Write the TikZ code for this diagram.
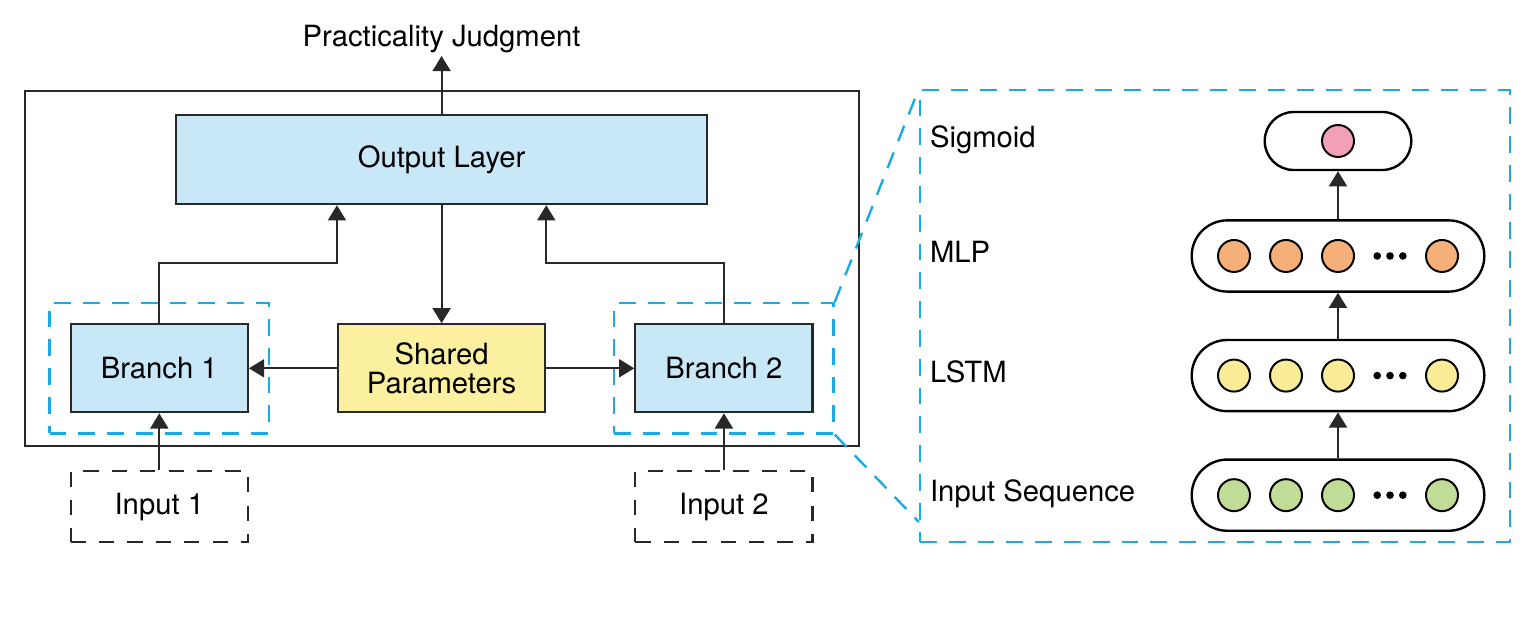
\documentclass[tikz,border=0pt]{standalone}
\usepackage{fontspec}
\setmainfont{TeX Gyre Heros}
\usetikzlibrary{positioning, shapes.misc, arrows.meta, fit, calc}

\definecolor{boxblue}{RGB}{200,232,248}
\definecolor{boxyellow}{RGB}{250,240,160}
\definecolor{zoomblue}{RGB}{28,170,226}
\definecolor{sigpink}{RGB}{242,160,182}
\definecolor{mlporange}{RGB}{245,176,122}
\definecolor{lstmyellow}{RGB}{250,236,150}
\definecolor{seqgreen}{RGB}{192,220,150}
\definecolor{edge}{RGB}{40,40,40}

\begin{document}
\begin{tikzpicture}[
            font=\fontsize{20.8}{20}\selectfont,
            block/.style={draw=edge, line width=1.5pt, fill=boxblue, minimum width=4.43cm, minimum height=2.2cm, align=center},
            inbox/.style={draw=edge, line width=1.5pt, dash pattern=on 0.38cm off 0.33cm, minimum width=4.43cm, minimum height=1.78cm},
            group/.style={draw=zoomblue, line width=1.7pt, dash pattern=on 0.42cm off 0.3cm, inner sep=0.5cm},
            zoomline/.style={draw=zoomblue, line width=1.7pt, dash pattern=on 0.42cm off 0.3cm},
            outerbox/.style={draw=edge, line width=1.6pt, inner sep=0pt},
            pill/.style={rounded rectangle, draw=black, line width=1.7pt, minimum width=7.55cm, minimum height=1.78cm},
            neuron/.style={circle, draw=black, line width=1.4pt, minimum size=0.8cm, inner sep=0pt},
            lbl/.style={anchor=west, inner sep=0pt, text height=0.72em, text depth=0pt, yshift=-0.04cm},
            arrow/.style={-{Triangle[length=0.38cm, width=0.45cm]}, line width=1.5pt, draw=edge}
        ]
        \useasboundingbox (0,0) rectangle (38.3,-15.6);
        
        % Siamese model
        \node[block, minimum width=13.28cm, minimum height=2.23cm] (output) at (11.04,-3.99) {Output Layer};
        \node[block, fill=boxyellow, minimum width=5.18cm, below=2.95cm of output] (shared) {Shared\\Parameters};
        \node[block, left=2.2cm of shared] (branch1) {Branch 1};
        \node[block, right=2.2cm of shared] (branch2) {Branch 2};
        
        \node[group, fit=(branch1)] (grp1) {};
        \node[group, fit=(branch2)] (grp2) {};
        \node[outerbox, fit={(0.625,-2.275) (21.475,-11.15)}] (model) {};
        
        % Inputs
        \node[inbox, below=1.42cm of branch1] (input1) {Input 1};
        \node[inbox, below=1.42cm of branch2] (input2) {Input 2};
        
        % Output label
        \node[above=1.45cm of output, inner sep=2pt] (judge) {Practicality Judgment};
        
        % Arrows
        \draw[arrow] (output) -- (judge);
        \draw[arrow] (output) -- (shared);
        \draw[arrow] (shared) -- (branch1);
        \draw[arrow] (shared) -- (branch2);
        \draw[arrow] (input1) -- (branch1);
        \draw[arrow] (input2) -- (branch2);
        
        \coordinate (join1) at ($(output.south -| shared.west)+(0,-1.45)$);
        \coordinate (join2) at ($(output.south -| shared.east)+(0,-1.45)$);
        \draw[arrow] (branch1.north) |- (join1) -- (join1 |- output.south);
        \draw[arrow] (branch2.north) |- (join2) -- (join2 |- output.south);
        
        % Branch detail
        \node[group, inner sep=0pt, fit={(23,-2.25) (37.75,-13.55)}] (zoom) {};
        \draw[zoomline] (grp2.north east) -- (zoom.north west);
        \draw[zoomline] (grp2.south east) -- ($(zoom.south west)+(0,0.53)$);
        
        \node[pill, minimum width=3.9cm, minimum height=1.45cm] (sigpill) at (33.45,-3.525) {};
        \node[pill, below=1.2cm of sigpill] (mlp) {};
        \node[pill, below=1.15cm of mlp] (lstm) {};
        \node[pill, below=1.15cm of lstm] (inseq) {};
        
        \node[neuron, fill=sigpink] (sig) at (sigpill) {};
        \foreach \lay/\col in {mlp/mlporange, lstm/lstmyellow, inseq/seqgreen} {
            \foreach \i/\dx in {1/-2.6, 2/-1.3, 3/0, 4/2.6}
                \node[neuron, fill=\col] (\lay-\i) at ($(\lay)+(\dx,0)$) {};
            \foreach \dx in {0.98, 1.3, 1.62}
                \fill ($(\lay)+(\dx,0)$) circle (0.095);
        }
        
        \draw[arrow] (mlp) -- (sigpill);
        \draw[arrow] (lstm) -- (mlp);
        \draw[arrow] (inseq) -- (lstm);
        
        % Layer names
        \node[lbl] (tsig) at ($(zoom.west |- sigpill)+(0.275,0)$) {Sigmoid};
        \node[lbl] (tmlp) at ($(zoom.west |- mlp)+(0.275,0)$) {MLP};
        \node[lbl] (tlstm) at ($(zoom.west |- lstm)+(0.275,0)$) {LSTM};
        \node[lbl] (tseq) at ($(zoom.west |- inseq)+(0.275,0)$) {Input Sequence};
        
        \end{tikzpicture}
\end{document}
